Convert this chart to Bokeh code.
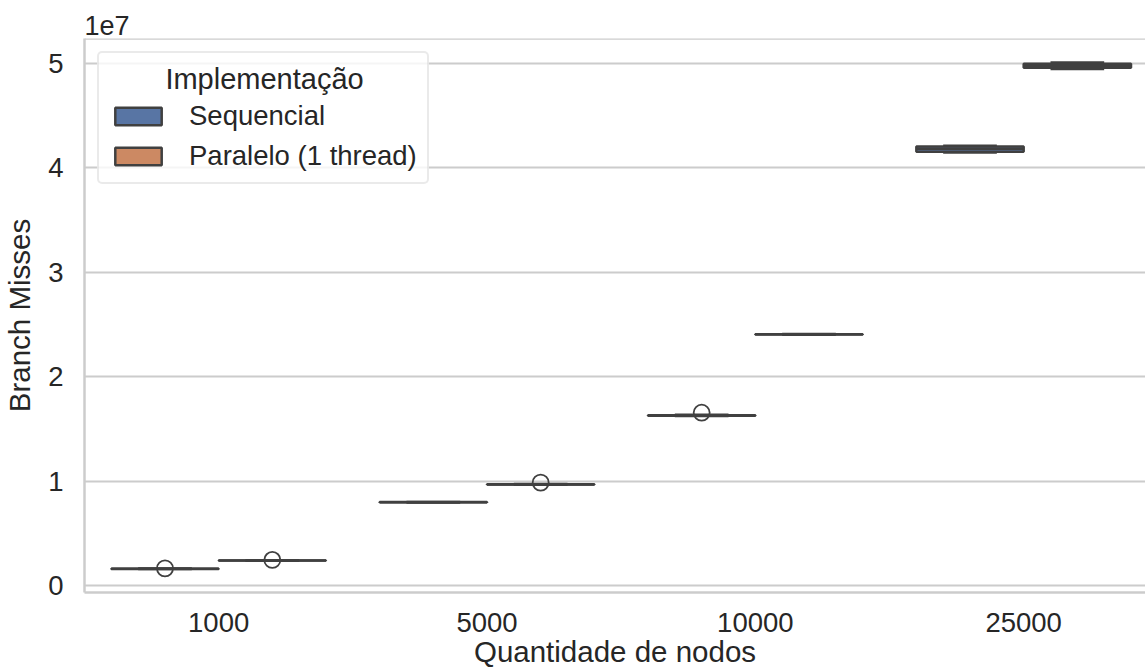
from bokeh.plotting import figure
from bokeh.models import (ColumnDataSource, FixedTicker, CustomJSTickFormatter,
                          Legend, LegendItem, Span, Range1d, Title)
from bokeh.embed import file_html
from bokeh.resources import INLINE

# Node counts (x categories) and the two implementations (hue)
categories = ["1000", "5000", "10000", "25000"]
groups = ["Sequencial", "Paralelo (1 thread)"]
legend_title = "Implementação"

# Box statistics of branch misses per node count
seq_whislo = [1.600e6, 7.980e6, 1.626e7, 4.149e7]
seq_q1     = [1.610e6, 7.990e6, 1.628e7, 4.155e7]
seq_median = [1.620e6, 8.000e6, 1.631e7, 4.184e7]
seq_q3     = [1.630e6, 8.010e6, 1.633e7, 4.206e7]
seq_whishi = [1.640e6, 8.020e6, 1.636e7, 4.212e7]

par_whislo = [2.395e6, 9.660e6, 2.403e7, 4.947e7]
par_q1     = [2.405e6, 9.680e6, 2.405e7, 4.960e7]
par_median = [2.415e6, 9.700e6, 2.407e7, 4.979e7]
par_q3     = [2.425e6, 9.720e6, 2.409e7, 4.998e7]
par_whishi = [2.435e6, 9.740e6, 2.411e7, 5.011e7]

# Outliers: (category index, value)
seq_outliers = [(0, 1.660e6), (2, 1.657e7)]
par_outliers = [(0, 2.470e6), (1, 9.870e6)]

y_ticks = [0, 1e7, 2e7, 3e7, 4e7, 5e7]

FILLS = ["#5875a4", "#cc8963"]
EDGE = "#404040"
GRIDC = "#cccccc"
TEXTC = "#262626"
FONT = "Liberation Sans"

BOX_W = 0.4
OFFSETS = [-0.2, 0.2]

p = figure(width=1145, height=672, output_backend="svg", toolbar_location=None,
           x_range=Range1d(-0.5, 3.454), y_range=Range1d(-6.5e5, 5.24e7),
           min_border_left=84, min_border_right=0, min_border_top=38,
           min_border_bottom=80)
p.outline_line_color = None
p.background_fill_color = "white"
p.xgrid.visible = False
p.ygrid.grid_line_color = GRIDC
p.ygrid.grid_line_width = 2
p.ygrid.ticker = FixedTicker(ticks=y_ticks)


def draw_group(gi, lo, q1, med, q3, hi, outliers):
    xs = [i + OFFSETS[gi] for i in range(len(categories))]
    src = ColumnDataSource(dict(
        x=xs,
        left=[x - BOX_W / 2 for x in xs],
        right=[x + BOX_W / 2 for x in xs],
        cl=[x - BOX_W / 4 for x in xs],
        cr=[x + BOX_W / 4 for x in xs],
        lo=lo, q1=q1, med=med, q3=q3, hi=hi,
    ))
    p.segment(x0="x", y0="q3", x1="x", y1="hi", source=src,
              line_color=EDGE, line_width=2.5)
    p.segment(x0="x", y0="q1", x1="x", y1="lo", source=src,
              line_color=EDGE, line_width=2.5)
    p.segment(x0="cl", y0="hi", x1="cr", y1="hi", source=src,
              line_color=EDGE, line_width=2.5)
    p.segment(x0="cl", y0="lo", x1="cr", y1="lo", source=src,
              line_color=EDGE, line_width=2.5)
    box = p.quad(left="left", right="right", bottom="q1", top="q3", source=src,
                 fill_color=FILLS[gi], line_color=EDGE, line_width=2.5)
    p.segment(x0="left", y0="med", x1="right", y1="med", source=src,
              line_color=EDGE, line_width=2.5)
    osrc = ColumnDataSource(dict(
        x=[c + OFFSETS[gi] for c, _ in outliers],
        y=[v for _, v in outliers],
    ))
    p.scatter(x="x", y="y", source=osrc, marker="circle", size=16,
              fill_color=None, line_color=EDGE, line_width=1.8)
    return box


seq_box = draw_group(0, seq_whislo, seq_q1, seq_median, seq_q3, seq_whishi, seq_outliers)
par_box = draw_group(1, par_whislo, par_q1, par_median, par_q3, par_whishi, par_outliers)

# Axes
xa = p.xaxis[0]
xa.ticker = FixedTicker(ticks=list(range(len(categories))))
xa.major_label_overrides = {i: c for i, c in enumerate(categories)}
ya = p.yaxis[0]
ya.ticker = FixedTicker(ticks=y_ticks)
ya.formatter = CustomJSTickFormatter(code="return (tick / 1e7).toFixed(0);")
xa.axis_label = "Quantidade de nodos"
ya.axis_label = "Branch Misses"
for ax in (xa, ya):
    ax.major_tick_line_color = None
    ax.minor_tick_line_color = None
    ax.major_tick_out = 0
    ax.major_tick_in = 0
    ax.axis_line_color = GRIDC
    ax.axis_line_width = 2.5
    ax.major_label_text_font = FONT
    ax.major_label_text_font_size = "27.5px"
    ax.major_label_text_color = TEXTC
    ax.axis_label_text_font = FONT
    ax.axis_label_text_font_size = "29.5px"
    ax.axis_label_text_font_style = "normal"
    ax.axis_label_text_color = TEXTC
xa.major_label_standoff = 20
xa.axis_label_standoff = 0
ya.major_label_standoff = 21
ya.axis_label_standoff = 9

# Top spine
p.add_layout(Span(location=5.24e7, dimension="width", line_color=GRIDC, line_width=2.5))

# Offset text of the y axis
p.add_layout(Title(text="1e7", align="left", offset=0, standoff=7,
                   text_font=FONT, text_font_size="27px", text_font_style="normal",
                   text_color=TEXTC), "above")

# Legend; the heading is indented with no-break spaces so it sits centred
legend = Legend(items=[LegendItem(label=groups[0], renderers=[seq_box]),
                       LegendItem(label=groups[1], renderers=[par_box])],
                location="top_left", title="\u00a0" * 7 + legend_title)
legend.title_text_font = FONT
legend.title_text_font_size = "29px"
legend.title_text_font_style = "normal"
legend.title_text_color = TEXTC
legend.title_standoff = 4
legend.label_text_font = FONT
legend.label_text_font_size = "27.5px"
legend.label_text_color = TEXTC
legend.glyph_width = 58
legend.glyph_height = 22
legend.label_height = 22
legend.label_standoff = 22
legend.spacing = 8
legend.padding = 10
legend.margin = 13
legend.border_line_color = "#d6d6d6"
legend.border_line_width = 2
legend.background_fill_color = "white"
legend.background_fill_alpha = 0.8
if "border_radius" in legend.properties():
    legend.border_radius = 5
p.add_layout(legend)

open("out.html", "w").write(file_html(p, INLINE))
